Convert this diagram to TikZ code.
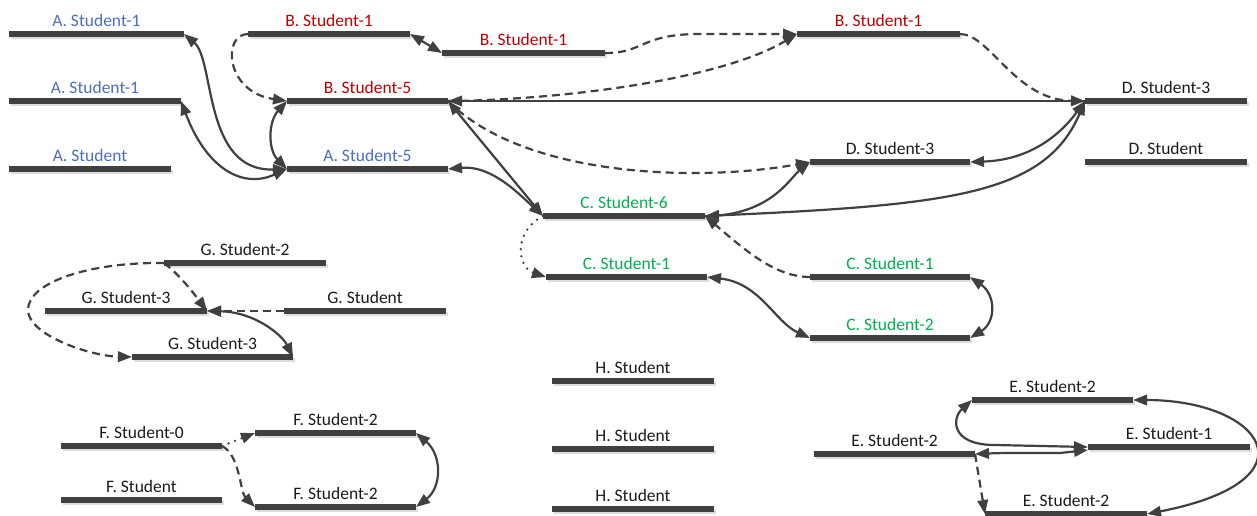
\documentclass[tikz,border=0pt]{standalone}
\usepackage{fontspec}
\setmainfont{Carlito}
\usetikzlibrary{arrows.meta}
\definecolor{barc}{HTML}{404040}
\definecolor{shc}{HTML}{DCDCDC}
\definecolor{cblue}{HTML}{4A6FC0}
\definecolor{cred}{HTML}{C00000}
\definecolor{cgreen}{HTML}{00B050}
\definecolor{ctext}{HTML}{1A1A1A}
\newcommand\sbar[6]{%
  \pgfmathsetmacro\barw{#3-#2}%
  \fill[shc] (#2+2,#4+1) rectangle (#3+2,#4+5);
  \node[barnode, minimum width=\barw pt, anchor=west] (#1) at (#2,#4) {};
  \node[lbl, text=#5] (#1-l) at ({(#2+#3)/2},#4-14) {#6};}
\tikzset{
  barnode/.style={rectangle, fill=barc, minimum height=6pt, inner sep=0pt, outer sep=0pt},
  lbl/.style={font=\fontsize{17.5}{20}\selectfont, inner sep=0pt},
  conn/.style={draw=barc, line width=2.2pt, -{Triangle[length=14pt,width=10.5pt]}},
  twoway/.style={conn, {Triangle[length=14pt,width=10.5pt]}-{Triangle[length=14pt,width=10.5pt]}},
  dsh/.style={dash pattern=on 8pt off 5pt},
  dotline/.style={line cap=round, dash pattern=on 0pt off 7pt, line width=2.6pt},
}
\begin{document}
\begin{tikzpicture}[x=1pt,y=-1pt]
\useasboundingbox (0,0) rectangle (1257,515);
\sbar{a1}{9}{184}{34}{cblue}{A. Student-1}
\sbar{a2}{9}{181}{101}{cblue}{A. Student-1}
\sbar{a3}{9}{171}{169}{cblue}{A. Student}
\sbar{b1}{248}{410}{34}{cred}{B. Student-1}
\sbar{b2}{442}{605}{53}{cred}{B. Student-1}
\sbar{b3}{797}{960}{34}{cred}{B. Student-1}
\sbar{b5}{287}{448}{101}{cred}{B. Student-5}
\sbar{a5}{287}{448}{169}{cblue}{A. Student-5}
\sbar{d1}{1085}{1247}{101}{ctext}{D. Student-3}
\sbar{d2}{810}{970}{162}{ctext}{D. Student-3}
\sbar{d3}{1085}{1247}{162}{ctext}{D. Student}
\sbar{c6}{543}{705}{216}{cgreen}{C. Student-6}
\sbar{c1}{546}{707}{277}{cgreen}{C. Student-1}
\sbar{c1r}{810}{970}{277}{cgreen}{C. Student-1}
\sbar{c2}{810}{970}{338}{cgreen}{C. Student-2}
\sbar{g2}{164}{326}{263}{ctext}{G. Student-2}
\sbar{g3}{45}{207}{311}{ctext}{G. Student-3}
\sbar{g0}{284}{446}{311}{ctext}{G. Student}
\sbar{g3l}{132}{293}{357}{ctext}{G. Student-3}
\sbar{f0}{61}{222}{446}{ctext}{F. Student-0}
\sbar{f1}{61}{222}{500}{ctext}{F. Student}
\sbar{f2t}{255}{416}{433}{ctext}{F. Student-2}
\sbar{f2b}{255}{416}{507}{ctext}{F. Student-2}
\sbar{h1}{552}{714}{381}{ctext}{H. Student}
\sbar{h2}{552}{714}{449}{ctext}{H. Student}
\sbar{h3}{552}{714}{509}{ctext}{H. Student}
\sbar{e2t}{972}{1133}{400}{ctext}{E. Student-2}
\sbar{e1}{1088}{1250}{447}{ctext}{E. Student-1}
\sbar{e2l}{814}{975}{454}{ctext}{E. Student-2}
\sbar{e2b}{985}{1147}{514}{ctext}{E. Student-2}
% A / B group
\draw[twoway] (a1.east) .. controls (215,60) and (203,172) .. (a5.west);
\draw[twoway] (a2.east) .. controls (205,165) and (240,190) .. (a5.west);
\draw[conn,dsh] (b1.west) .. controls (222,34) and (225,92) .. (b5.west);
\draw[twoway] (b5.west) .. controls (268,122) and (268,150) .. (a5.west);
\draw[twoway] (b1.east) -- (b2.west);
\draw[conn,dsh] (b2.east) .. controls (645,53) and (640,34) .. (700,34) -- (b3.west);
\draw[conn,dsh] (b5.east) .. controls (560,100) and (720,80) .. (b3.west);
\draw[conn,line width=2pt] (d1.west) -- (b5.east);
\draw[conn,dsh] (b3.east) .. controls (990,34) and (1015,100) .. (d1.west);
\draw[twoway] (d1.west) .. controls (1060,135) and (1030,160) .. (d2.east);
\draw[twoway] (c6.east) .. controls (950,205) and (1045,195) .. (d1.west);
\draw[conn] (c6.east) .. controls (770,216) and (790,178) .. (d2.west);
\draw[twoway] (b5.east) -- (c6.west);
\draw[conn,dsh] (b5.east) .. controls (525,178) and (700,182) .. (d2.west);
\draw[twoway] (a5.east) .. controls (492,165) and (520,195) .. (c6.west);
% C group
\draw[conn,dotline] (c6.west) .. controls (512,232) and (518,268) .. (c1.west);
\draw[conn,dsh] (c1r.west) .. controls (775,277) and (745,250) .. (c6.east);
\draw[twoway] (c1.east) .. controls (760,283) and (775,322) .. (c2.west);
\draw[twoway] (c1r.east) .. controls (996,295) and (996,322) .. (c2.east);
% G group
\draw[conn,dsh] (g2.west) .. controls (180,275) and (195,295) .. (g3.east);
\draw[conn,dsh] (g2.west) .. controls (90,262) and (28,282) .. (28,310) .. controls (28,335) and (90,356) .. (g3l.west);
\draw[conn,dsh] (g0.west) -- (g3.east);
\draw[twoway] (g3.east) .. controls (255,312) and (282,335) .. (g3l.east);
% F group
\draw[conn,dotline] (f0.east) -- (f2t.west);
\draw[conn,dsh] (f0.east) .. controls (240,455) and (240,492) .. (f2b.west);
\draw[twoway] (f2t.east) .. controls (442,455) and (442,487) .. (f2b.east);
% E group
\draw[twoway] (e2t.west) .. controls (952,418) and (950,445) .. (995,445) -- (e1.west);
\draw[twoway] (e2l.east) .. controls (1000,453) .. (1060,453) -- ([yshift=-3pt]e1.west);
\draw[conn,dsh] (e2l.east) -- (e2b.west);
\draw[twoway] (e2t.east) .. controls (1262,400) and (1320,480) .. (e2b.east);
\end{tikzpicture}
\end{document}
